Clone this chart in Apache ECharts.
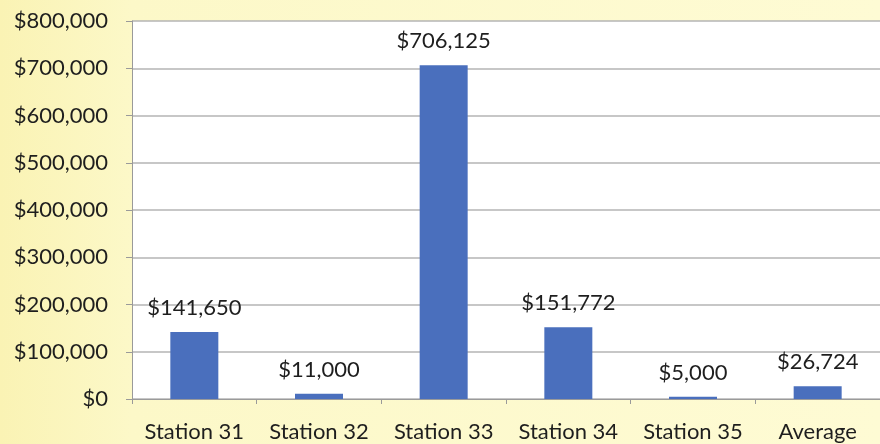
<!DOCTYPE html>
<html><head><meta charset="utf-8">
<script src="https://cdn.jsdelivr.net/npm/echarts@6/dist/echarts.min.js"></script>
<style>html,body{margin:0;padding:0;background:#fcf9cc}#c{width:880px;height:444px}</style>
</head><body><div id="c"></div>
<script>
var categories = ['Station 31','Station 32','Station 33','Station 34','Station 35','Average'];
var values = [141650, 11000, 706125, 151772, 5000, 26724];
var yTicks = [0,100000,200000,300000,400000,500000,600000,700000,800000];
function money(v){return '$' + Number(v).toLocaleString('en-US');}
var FONT = 'Lato';
var chart = echarts.init(document.getElementById('c'));
chart.setOption({
  backgroundColor: {type:'linear',x:0,y:0,x2:1,y2:0,colorStops:[{offset:0,color:'#faf3b4'},{offset:0.15,color:'#fcf8c8'},{offset:1,color:'#fefbd4'}]},
  animation:false,
  grid:{left:132,top:21,right:-2,bottom:45,show:true,backgroundColor:'#ffffff',borderWidth:0},
  xAxis:{type:'category',data:categories,
    axisLine:{lineStyle:{color:'#9a9a9a',width:1}},
    axisTick:{show:true,interval:0,length:5,lineStyle:{color:'#9a9a9a'}},
    axisLabel:{interval:0,fontFamily:FONT,fontSize:22,color:'#1e1e1e',margin:22}},
  yAxis:{type:'value',min:0,max:800000,interval:100000,
    axisLine:{show:true,lineStyle:{color:'#9a9a9a'}},
    axisTick:{show:true,length:6,inside:false,lineStyle:{color:'#9a9a9a'}},
    splitLine:{lineStyle:{color:'#b5b5b5',width:1.5}},
    axisLabel:{fontFamily:FONT,fontSize:22,color:'#1e1e1e',margin:24,formatter:function(v){return money(v);}}},
  series:[{type:'bar',data:values,barWidth:48,itemStyle:{color:'#4a6fbd'},
    label:{show:true,position:'top',distance:13,fontFamily:FONT,fontSize:22,color:'#1e1e1e',formatter:function(p){return money(p.value);}}}]
});
</script></body></html>
